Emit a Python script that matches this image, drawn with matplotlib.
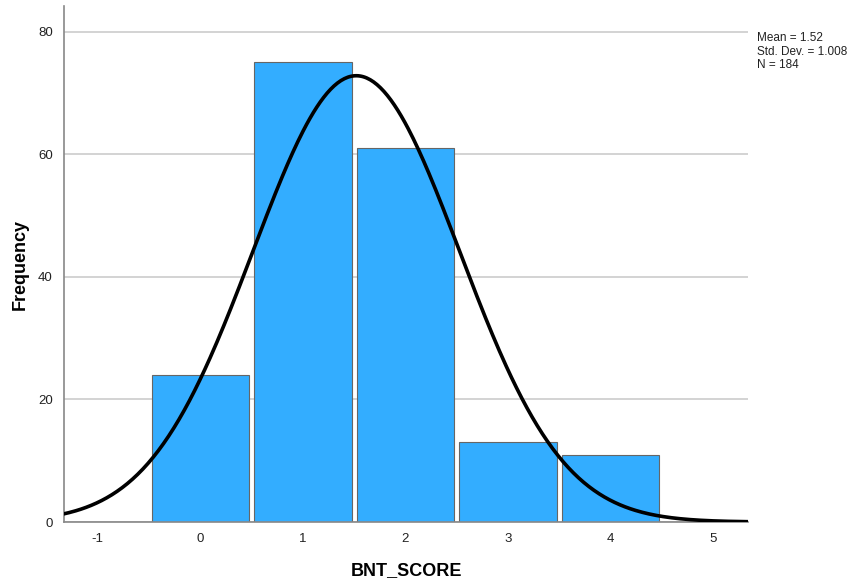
import numpy as np
import matplotlib.pyplot as plt

plt.rcParams['font.family'] = ['Liberation Sans', 'DejaVu Sans']
plt.rcParams['axes.unicode_minus'] = False

# histogram of BNT_SCORE
scores = [0, 1, 2, 3, 4]
counts = [24, 75, 61, 13, 11]
mean = 1.52
std = 1.008
n = 184

fig = plt.figure(figsize=(8.59, 5.88), dpi=100)
ax = fig.add_axes([0.0745, 0.1122, 0.7963, 0.8776])

ax.bar(scores, counts, width=0.95, color='#33adff', edgecolor='#666666', linewidth=0.8, zorder=2)

# normal curve scaled to counts (bin width 1)
xs = np.linspace(-1.35, 5.35, 400)
ys = n / (std * np.sqrt(2 * np.pi)) * np.exp(-0.5 * ((xs - mean) / std) ** 2)
ax.plot(xs, ys, color='black', linewidth=2.6, zorder=3)

ax.set_xlim(-1.33, 5.34)
ax.set_ylim(0, 84.2)
ax.set_xticks(range(-1, 6))
ax.set_yticks([0, 20, 40, 60, 80])
ax.yaxis.grid(True, color='#cccccc', linewidth=1.2, zorder=0)
ax.set_axisbelow(True)
ax.tick_params(length=0, labelsize=9.5, colors='#222222', pad=8)
for s in ['top', 'right']:
    ax.spines[s].set_visible(False)
for s in ['left', 'bottom']:
    ax.spines[s].set_color('#888888')
    ax.spines[s].set_linewidth(1.2)

ax.set_xlabel('BNT_SCORE', fontsize=13, fontweight='bold', labelpad=12)
ax.set_ylabel('Frequency', fontsize=13, fontweight='bold', labelpad=7)

fig.text(0.881, 0.946, 'Mean = %.2f\nStd. Dev. = %.3f\nN = %d' % (mean, std, n),
         fontsize=8.5, va='top', ha='left', linespacing=1.2, color='#222222')

fig.savefig('out.png', dpi=100)
